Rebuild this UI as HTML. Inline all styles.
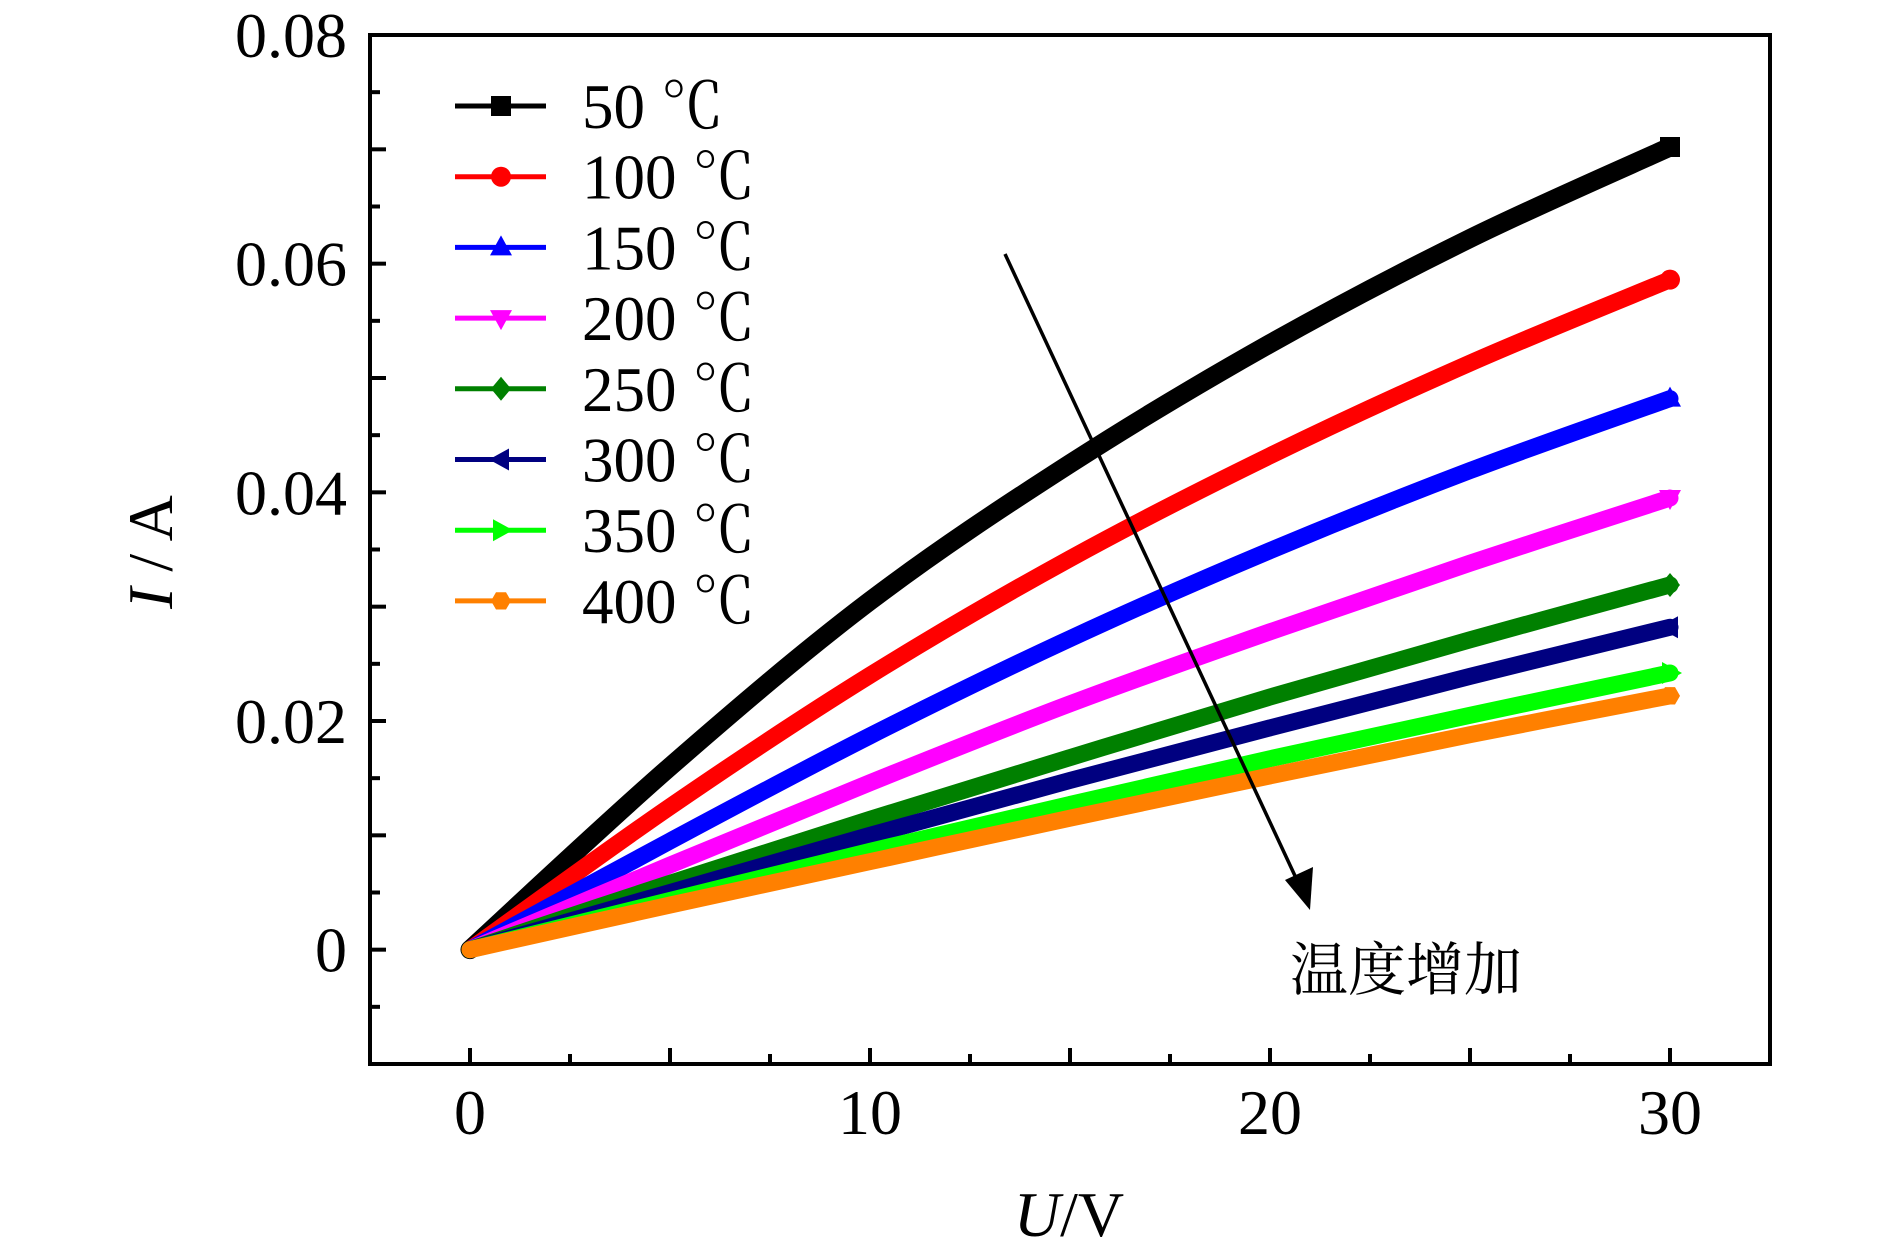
<!DOCTYPE html>
<html><head><meta charset="utf-8"><style>
html,body{margin:0;padding:0;background:#fff;}
svg{display:block;}
text{font-family:"Liberation Serif","Noto Serif CJK SC",serif;fill:#000;}
</style></head><body>
<svg id="chart" width="1890" height="1252" viewBox="0 0 1890 1252" xmlns="http://www.w3.org/2000/svg">
<g id="plot"></g>
</svg>
<script>
const voltages = [0, 5, 10, 15, 20, 25, 30];
const seriesNames = ['50 ℃','100 ℃','150 ℃','200 ℃','250 ℃','300 ℃','350 ℃','400 ℃'];
const seriesColors = ['#000000','#ff0000','#0000ff','#ff00ff','#008000','#000080','#00ff00','#ff8000'];
const seriesMarkers = ['square','circle','up','down','diamond','left','right','hex'];
const s50 = [0, 0.0160, 0.0305, 0.0425, 0.0530, 0.0622, 0.0702];
const s100 = [0, 0.0125, 0.0240, 0.0342, 0.0432, 0.0513, 0.0586];
const s150 = [0, 0.0095, 0.0187, 0.0272, 0.0349, 0.0419, 0.0482];
const s200 = [0, 0.0074, 0.0146, 0.0215, 0.0278, 0.0338, 0.0395];
const s250 = [0, 0.0058, 0.0114, 0.0168, 0.0221, 0.0271, 0.0319];
const s300 = [0, 0.0050, 0.0100, 0.0148, 0.0194, 0.0239, 0.0282];
const s350 = [0, 0.0043, 0.0086, 0.0127, 0.0167, 0.0205, 0.0242];
const s400 = [0, 0.0039, 0.0077, 0.0115, 0.0152, 0.0188, 0.0222];
const xTickLabels = ['0','10','20','30'];
const xTickValues = [0,10,20,30];
const yTickLabels = ['0','0.02','0.04','0.06','0.08'];
const yTickValues = [0,0.02,0.04,0.06,0.08];

const allSeries = [s50,s100,s150,s200,s250,s300,s350,s400];
const L=370,R=1770,T=35,B=1064;
const xMin=-2.5,xMax=32.5,yMin=-0.01,yMax=0.08;
function xs(v){return L+(v-xMin)/(xMax-xMin)*(R-L);}
function ys(v){return B-(v-yMin)/(yMax-yMin)*(B-T);}
const NS='http://www.w3.org/2000/svg';
const svg=document.getElementById('chart');
const g=document.getElementById('plot');
function mk(tag,attrs,parent){const e=document.createElementNS(NS,tag);for(const k in attrs)e.setAttribute(k,attrs[k]);(parent||svg).appendChild(e);return e;}

function markerPath(type,cx,cy,r){
  switch(type){
    case 'square': return `M${cx-r},${cy-r}h${2*r}v${2*r}h${-2*r}z`;
    case 'circle': return `M${cx-r},${cy}a${r},${r} 0 1,0 ${2*r},0a${r},${r} 0 1,0 ${-2*r},0z`;
    case 'up': return `M${cx},${cy-r*1.2}L${cx+r*1.1},${cy+r*0.8}L${cx-r*1.1},${cy+r*0.8}z`;
    case 'down': return `M${cx},${cy+r*1.2}L${cx+r*1.1},${cy-r*0.8}L${cx-r*1.1},${cy-r*0.8}z`;
    case 'diamond': return `M${cx},${cy-r*1.2}L${cx+r},${cy}L${cx},${cy+r*1.2}L${cx-r},${cy}z`;
    case 'left': return `M${cx-r*1.2},${cy}L${cx+r*0.8},${cy-r*1.1}L${cx+r*0.8},${cy+r*1.1}z`;
    case 'right': return `M${cx+r*1.2},${cy}L${cx-r*0.8},${cy-r*1.1}L${cx-r*0.8},${cy+r*1.1}z`;
    default: {let d='';for(let i=0;i<6;i++){const a=Math.PI/3*i;d+=(i?'L':'M')+(cx+r*Math.cos(a))+','+(cy+r*Math.sin(a));}return d+'z';}
  }
}
function smoothPath(pts){
  let d=`M${pts[0][0]},${pts[0][1]}`;
  for(let i=0;i<pts.length-1;i++){
    const p0=pts[Math.max(i-1,0)],p1=pts[i],p2=pts[i+1],p3=pts[Math.min(i+2,pts.length-1)];
    const c1=[p1[0]+(p2[0]-p0[0])/6,p1[1]+(p2[1]-p0[1])/6];
    const c2=[p2[0]-(p3[0]-p1[0])/6,p2[1]-(p3[1]-p1[1])/6];
    d+=`C${c1[0]},${c1[1]} ${c2[0]},${c2[1]} ${p2[0]},${p2[1]}`;
  }
  return d;
}

allSeries.forEach((s,i)=>{
  const pts=voltages.map((v,j)=>[xs(v),ys(s[j])]);
  const p=mk('path',{d:smoothPath(pts),fill:'none',stroke:seriesColors[i],'stroke-width':i===0?19:17,'stroke-linecap':'round'},g);
  
  
  const last=pts[pts.length-1];
  const m=mk('path',{d:markerPath(seriesMarkers[i],last[0],last[1],10),fill:seriesColors[i]},g);
  
  
});

const fr=mk('rect',{x:L,y:T,width:R-L,height:B-T,fill:'none',stroke:'#000','stroke-width':4});



for(let v=0;v<=30.01;v+=2.5){
  const major=Math.abs(v%5)<0.01;
  const t=mk('line',{x1:xs(v),x2:xs(v),y1:B,y2:B-(major?16:10),stroke:'#000','stroke-width':4});
  
  
}
xTickValues.forEach((v,i)=>{
  const t=mk('text',{x:xs(v),y:1134,'font-size':64,'text-anchor':'middle'});
  t.textContent=xTickLabels[i];
  
  
});
for(let k=-1;k<=15;k++){
  const v=k*0.005;
  const major=(k%2===0);
  const t=mk('line',{x1:L,x2:L+(major?16:10),y1:ys(v),y2:ys(v),stroke:'#000','stroke-width':4});
  
  
}
yTickValues.forEach((v,i)=>{
  const t=mk('text',{x:347,y:ys(v)+22,'font-size':64,'text-anchor':'end'});
  t.textContent=yTickLabels[i];
  
  
});

seriesNames.forEach((n,i)=>{
  const y=106+i*70.7;
  const ln=mk('line',{x1:455,x2:546,y1:y,y2:y,stroke:seriesColors[i],'stroke-width':5});
  
  
  const m=mk('path',{d:markerPath(seriesMarkers[i],501,y,10),fill:seriesColors[i]});
  
  
  const t=mk('text',{x:582,y:y+22,'font-size':63});
  t.textContent=n;
  
  
});

const ar=mk('line',{x1:1005,y1:254,x2:1296,y2:878,stroke:'#000','stroke-width':3.5});


const ah=mk('path',{d:'M1310,910 L1285,880 L1313,867 Z',fill:'#000'});


const ct=mk('text',{x:1290,y:990,'font-size':58});
ct.textContent='温度增加';



const xt=mk('text',{x:1069,y:1236,'font-size':64,'text-anchor':'middle'});
xt.innerHTML='<tspan font-style="italic">U</tspan>/V';


const yt=mk('text',{x:0,y:0,'font-size':64,'text-anchor':'middle',transform:'translate(172,552) rotate(-90)'});
yt.innerHTML='<tspan font-style="italic">I</tspan> / A';


</script>
</body></html>
